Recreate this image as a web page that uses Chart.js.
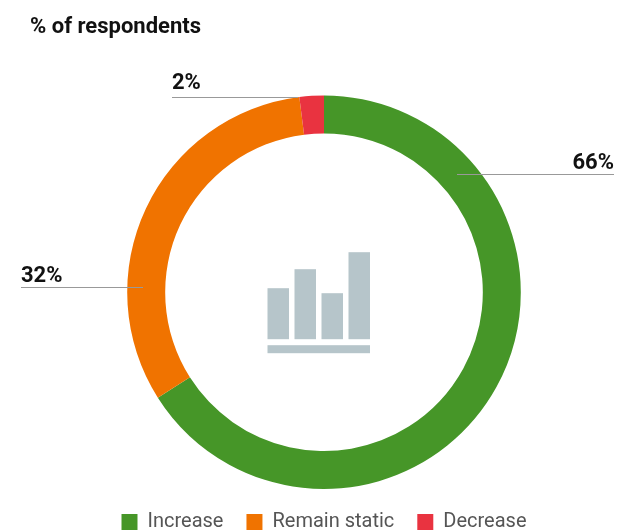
<!DOCTYPE html>
<html lang="en">
<head>
<meta charset="UTF-8">
<title>% of respondents</title>
<script src="https://cdn.jsdelivr.net/npm/chart.js@4.4.0/dist/chart.umd.min.js"></script>
<style>
*{box-sizing:border-box;margin:0;padding:0}
html,body{background:#fff;overflow:hidden}
.wrap{position:relative;width:618px;height:532px}
</style>
</head>
<body>
<div class="wrap"><canvas id="donut"></canvas></div>
<script>
const categories = ["Increase", "Remain static", "Decrease"];
const shares = [66, 32, 2];
const colors = ["#469628", "#f07300", "#e93340"];
const iconBars = [51, 70, 46, 87];

// leader lines, offsets from the donut centre: [line start x, line end x, line y, text x, text gap, text align]
const leaders = [
  [133, 290, -118, 290, 5, "right"],
  [-181, -303, -5, -303, 5, "left"],
  [-26, -152, -195, -152, 8, "left"],
];

const donutExtras = {
  id: "donutExtras",
  afterDatasetsDraw(chart) {
    const { ctx } = chart;
    const arc = chart.getDatasetMeta(0).data[0];
    const cx = arc.x, cy = arc.y;

    // icon in the middle
    ctx.save();
    ctx.fillStyle = "#b6c5ca";
    iconBars.forEach((h, i) => ctx.fillRect(cx - 56.5 + i * 27, cy + 47 - h, 21.5, h));
    ctx.fillRect(cx - 56.5, cy + 53, 102.5, 8);

    // leader lines and labels
    ctx.font = "700 22px Roboto";
    ctx.textBaseline = "alphabetic";
    leaders.forEach((l, i) => {
      ctx.strokeStyle = "#999999";
      ctx.lineWidth = 1;
      ctx.beginPath();
      ctx.moveTo(cx + l[0], Math.round(cy + l[2]) + 0.5);
      ctx.lineTo(cx + l[1], Math.round(cy + l[2]) + 0.5);
      ctx.stroke();
      ctx.fillStyle = "#111111";
      ctx.textAlign = l[5];
      ctx.fillText(shares[i] + "%", cx + l[3], cy + l[2] - l[4]);
    });
    ctx.restore();
  }
};

new Chart(document.getElementById("donut"), {
  type: "doughnut",
  data: {
    labels: categories,
    datasets: [{ data: shares, backgroundColor: colors, borderWidth: 0 }]
  },
  options: {
    responsive: true, maintainAspectRatio: false, animation: false,
    cutout: "80.7%",
    layout: { padding: { left: 30, right: 0, top: 0, bottom: -10 } },
    plugins: {
      tooltip: { enabled: false },
      title: {
        display: true, text: "% of respondents", align: "start", color: "#111111",
        font: { family: "Roboto", size: 22, weight: "700" },
        padding: { top: 14, bottom: 55 }
      },
      legend: {
        position: "bottom",
        labels: { boxWidth: 16, boxHeight: 16, padding: 23, color: "#555555", font: { family: "Roboto", size: 20 } }
      }
    }
  },
  plugins: [donutExtras]
});
</script>
</body>
</html>
